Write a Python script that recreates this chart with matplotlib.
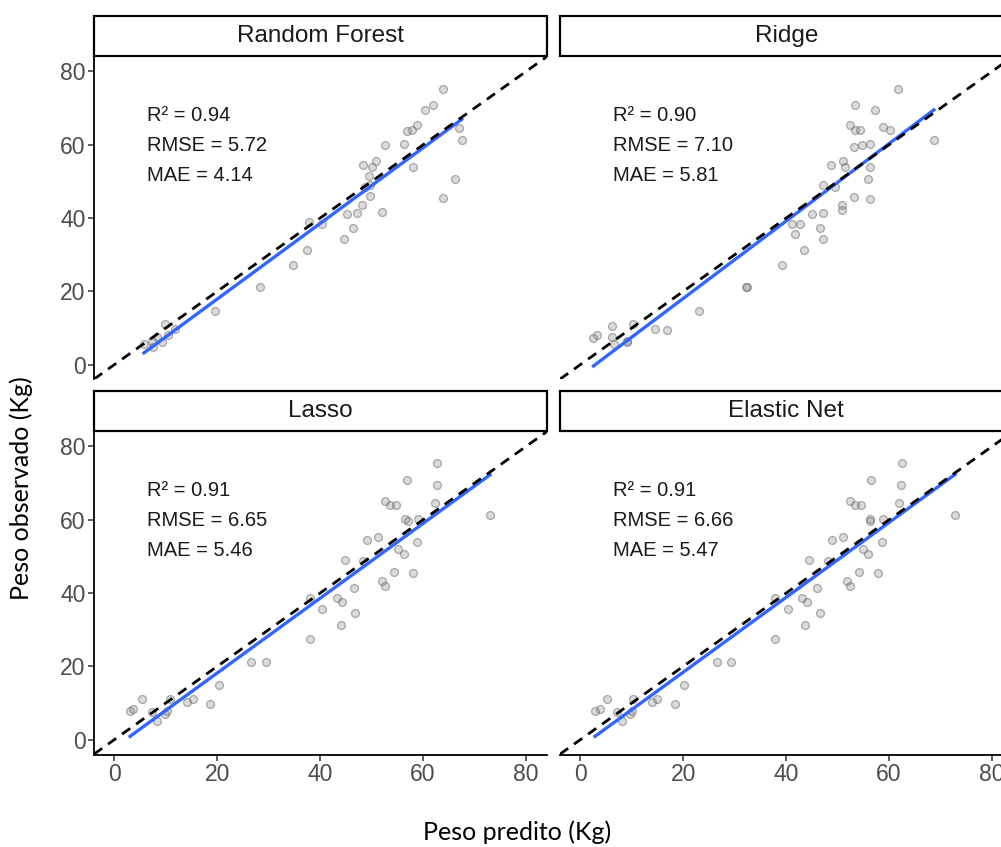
import numpy as np
import matplotlib
matplotlib.use('Agg')
import matplotlib.pyplot as plt
from matplotlib.patches import Rectangle

# Model names and metrics
modelos = ['Random Forest', 'Ridge', 'Lasso', 'Elastic Net']
r2 = [0.94, 0.90, 0.91, 0.91]
rmse = [5.72, 7.10, 6.65, 6.66]
mae = [4.14, 5.81, 5.46, 5.47]

pred_rf = [63.8, 61.9, 60.4, 58.8, 57.8, 56.8, 67.0, 67.5, 52.6, 56.2, 58.0, 66.2, 63.9,
           48.3, 50.9, 50.0, 49.4, 49.7, 48.7, 49.7, 48.1, 47.1, 52.0, 45.2, 46.3, 44.7,
           37.9, 40.3, 37.5, 34.8, 28.3, 19.6, 9.9, 11.8, 8.3, 7.3, 7.6, 9.3, 10.5, 5.8]
obs_rf = [75.3, 70.9, 69.6, 65.3, 64.0, 63.7, 64.6, 61.4, 59.8, 60.1, 53.9, 50.7, 45.4,
          54.4, 55.5, 53.9, 51.6, 48.9, 48.4, 45.9, 43.5, 41.5, 41.8, 41.0, 37.4, 34.2,
          38.9, 38.5, 31.4, 27.3, 21.2, 14.8, 11.2, 9.8, 7.5, 6.6, 4.8, 6.2, 8.0, 5.6]

pred_ridge = [61.8, 53.4, 57.3, 52.4, 53.4, 54.4, 58.8, 60.2, 68.7, 53.1, 54.7, 56.3,
              48.7, 51.1, 51.5, 56.2, 56.0, 49.5, 47.1, 53.1, 56.2, 50.8, 50.8, 45.0,
              47.1, 41.1, 42.7, 41.7, 46.5, 47.1, 43.5, 39.3, 32.4, 32.2, 23.1, 14.6,
              16.8, 10.2, 6.2, 3.2, 2.6, 6.2, 9.1, 9.1, 6.5]
obs_ridge = [75.3, 70.9, 69.6, 65.3, 64.0, 64.0, 64.8, 64.0, 61.4, 59.4, 59.8, 60.1,
             54.4, 55.7, 53.9, 53.9, 50.7, 48.4, 48.9, 45.7, 45.3, 43.5, 42.1, 41.2,
             41.5, 38.5, 38.5, 35.7, 37.4, 34.2, 31.4, 27.3, 21.2, 21.3, 14.8, 9.8,
             9.5, 11.2, 10.7, 8.0, 7.4, 7.5, 6.6, 6.2, 5.7]

pred_lasso = [62.7, 56.8, 62.7, 52.6, 53.6, 54.8, 62.3, 73.0, 56.5, 59.1, 57.1, 49.1,
              51.3, 58.9, 55.2, 56.2, 44.9, 48.4, 54.4, 58.0, 52.0, 52.6, 46.5, 43.2,
              44.2, 38.1, 40.3, 46.8, 44.0, 38.1, 26.6, 29.5, 20.3, 14.1, 15.4, 18.6,
              10.9, 5.4, 3.1, 3.7, 7.3, 9.9, 8.3, 10.2]
pred_enet = [62.5, 56.5, 62.3, 52.4, 53.4, 54.6, 62.0, 72.8, 56.2, 58.8, 56.3, 48.9,
             51.1, 58.6, 55.0, 56.0, 44.5, 48.2, 54.2, 57.9, 51.8, 52.4, 46.0, 43.0,
             44.0, 37.9, 40.3, 46.6, 43.7, 37.9, 26.5, 29.3, 20.1, 13.9, 15.0, 18.4,
             10.3, 5.2, 2.9, 3.9, 7.1, 9.7, 8.1, 10.0]
obs_lasso_enet = [75.5, 70.9, 69.6, 65.0, 63.9, 63.9, 64.6, 61.4, 60.1, 60.1, 59.6, 54.4,
                  55.3, 53.9, 51.9, 50.7, 49.0, 48.7, 45.7, 45.4, 43.3, 41.9, 41.5, 38.7,
                  37.6, 38.7, 35.8, 34.5, 31.3, 27.4, 21.3, 21.3, 15.0, 10.2, 11.1, 9.7,
                  11.1, 11.1, 7.9, 8.4, 7.5, 7.0, 5.2, 7.9]

preds = [pred_rf, pred_ridge, pred_lasso, pred_enet]
obss = [obs_rf, obs_ridge, obs_lasso_enet, obs_lasso_enet]
ticks = [0, 20, 40, 60, 80]

fig = plt.figure(figsize=(10.01, 8.47), dpi=100)
W, H = 1001, 847

# panel boxes in pixels: left, top, width, height
lefts = [94, 560]
tops = [56, 431]
pw, ph = 452.7, 323.5
strip_h = 40

font = 'Liberation Sans'

for i, nome in enumerate(modelos):
    row, col = divmod(i, 2)
    x0, y0 = lefts[col], tops[row]
    ax = fig.add_axes([x0 / W, 1 - (y0 + ph) / H, pw / W, ph / H])
    ax.set_xlim(-3.9, 84.0)
    ax.set_ylim(-4.0, 84.2)

    x = np.array(preds[i])
    y = np.array(obss[i])
    ax.scatter(x, y, s=32, facecolor=(0.5, 0.5, 0.5, 0.28),
               edgecolor=(0.38, 0.38, 0.38, 0.5), linewidth=0.9, zorder=2)

    # linear fit
    b1, b0 = np.polyfit(x, y, 1)
    xs = np.array([x.min(), x.max()])
    ax.plot(xs, b0 + b1 * xs, color='#3366FF', lw=2.4, zorder=3)

    # 1:1 line
    ax.axline((0, 0), slope=1, color='black', lw=2.0, dashes=(3.6, 2.6), zorder=4)

    labels = ['R\u00b2 = %.2f' % r2[i], 'RMSE = %.2f' % rmse[i], 'MAE = %.2f' % mae[i]]
    for lab, yy in zip(labels, [68.0, 59.8, 51.6]):
        ax.text(6.3, yy, lab, fontsize=14.5, family=font, color='#1a1a1a',
                ha='left', va='center')

    for s in ['top', 'right']:
        ax.spines[s].set_visible(False)
    ax.spines['left'].set_visible(col == 0)
    ax.spines['bottom'].set_visible(row == 1)
    for s in ['left', 'bottom']:
        ax.spines[s].set_linewidth(1.3)
        ax.spines[s].set_color('black')

    ax.set_xticks(ticks)
    ax.set_yticks(ticks)
    ax.tick_params(length=4, width=1.1, color='#333333', labelcolor='#4D4D4D',
                   labelsize=16.5, pad=2)
    ax.tick_params(axis='x', bottom=(row == 1), labelbottom=(row == 1))
    ax.tick_params(axis='y', left=(col == 0), labelleft=(col == 0))
    for t in ax.get_xticklabels() + ax.get_yticklabels():
        t.set_family(font)

    # facet strip
    sh = strip_h / ph
    ax.add_patch(Rectangle((0, 1), 1, sh, transform=ax.transAxes, clip_on=False,
                           facecolor='white', edgecolor='black', lw=1.6, zorder=5))
    ax.text(0.5, 1 + sh / 2, nome, transform=ax.transAxes, ha='center', va='center',
            fontsize=17.5, family=font, color='#1a1a1a', zorder=6)

fig.text(21 / W, 1 - 488 / H, 'Peso observado (Kg)', rotation=90, ha='center',
         va='center', fontsize=18, family='Lato')
fig.text(517 / W, 1 - 832 / H, 'Peso predito (Kg)', ha='center', va='center',
         fontsize=18, family='Lato')

fig.savefig('out.png', dpi=100)
